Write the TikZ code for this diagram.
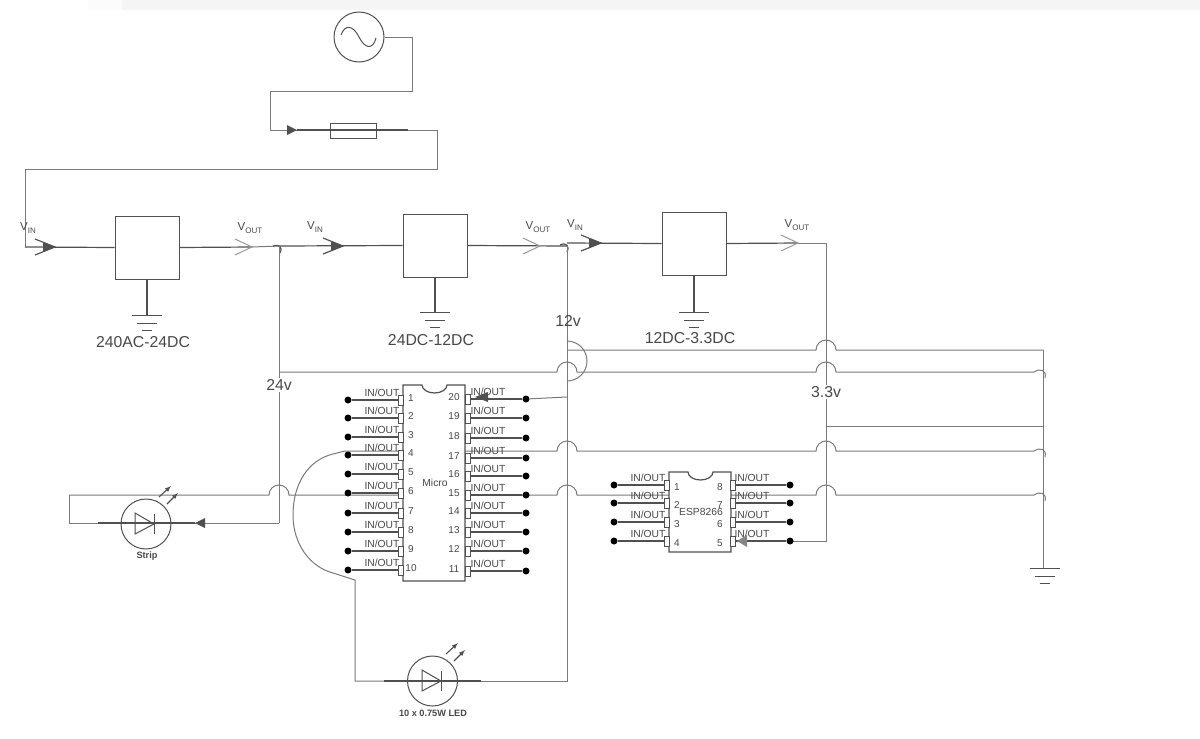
\documentclass[tikz,border=0pt]{standalone}
\usepackage{fontspec}
\setmainfont{Liberation Sans}
\definecolor{wirecol}{HTML}{7A7A7A}
\definecolor{darkcol}{HTML}{505050}
\definecolor{textcol}{HTML}{484848}
\tikzset{
  wire/.style={draw=wirecol,line width=1pt},
  lead/.style={draw=darkcol,line width=1.2pt},
  bluebox/.style={draw=darkcol,line width=1pt,fill=white,minimum width=64pt,minimum height=63pt,inner sep=0pt},
  pinbox/.style={draw=darkcol,line width=.8pt,fill=white,minimum width=5pt,minimum height=10pt,inner sep=0pt},
  pindot/.style={circle,fill=black,minimum size=7pt,inner sep=0pt},
  ledring/.style={circle,draw=darkcol,line width=1pt,minimum size=50pt,inner sep=0pt},
  iolabel/.style={font=\fontsize{10.3}{11}\selectfont,text=textcol,inner sep=0pt},
  numlabel/.style={font=\fontsize{10}{11}\selectfont,text=textcol,inner sep=0pt},
  biglabel/.style={font=\fontsize{15.8}{17}\selectfont,text=textcol,inner sep=0pt},
  boldlabel/.style={font=\fontsize{9.2}{10}\selectfont\bfseries,text=textcol,inner sep=0pt},
  vlabel/.style={font=\fontsize{11.5}{12}\selectfont,text=textcol,inner sep=0pt},
  vinarrow/.pic={
    \fill[darkcol] (20,0) -- (8,-5) -- (8,5) -- cycle;
    \draw[darkcol,line width=1.2pt] (0,-8) -- (20,0) -- (0,8);
  },
  voutarrow/.pic={
    \draw[gray!80,line width=1pt] (0,-8) -- (17,0) -- (0,8);
  },
  earth/.pic={
    \draw[darkcol,line width=1pt] (-15,0) -- (15,0) (-10,8) -- (10,8) (-5,15) -- (5,15);
  },
  ledsym/.pic={
    \draw[darkcol,line width=1pt] (-10,-11) -- (-10,10) -- (9,0) -- cycle;
    \draw[darkcol,line width=1pt] (9,-10) -- (9,10);
    \draw[darkcol,line width=1.1pt,-latex] (14,-27) -- (26,-38);
    \draw[darkcol,line width=1.1pt,-latex] (22,-20) -- (33,-31);
  }
}
\newcommand{\vsub}[1]{V\raisebox{-2.5pt}{\fontsize{8}{9}\selectfont #1}}
\begin{document}
\begin{tikzpicture}[x=1pt,y=-1pt]
\useasboundingbox (0,0) rectangle (1200,739);
\fill[white] (0,0) rectangle (1200,739);
\fill[black!1] (88,0) rectangle (122,10);
\fill[black!4] (122,0) rectangle (1200,10);

% mains and fuse
\node (source) [circle,draw=darkcol,line width=1pt,minimum size=50pt,inner sep=0pt] at (359,37) {};
\draw[darkcol,line width=1pt] (341,35) .. controls (345,24) and (353,25) .. (359,37) .. controls (365,49) and (373,50) .. (376,38);
\node (fuse) [draw=darkcol,line width=1pt,minimum width=46pt,minimum height=15pt,inner sep=0pt] at (353,131) {};
\coordinate (fusein) at (270,130);
\coordinate (fuseout) at (437,130);
\coordinate (vin1) at (25,247);
\draw[wire] (source.east) -- (412,37) -- (412,91) -- (270,91) -- (fusein) -- (297,130);
\fill[darkcol] (297,130) -- (287,125) -- (287,135) -- cycle;
\draw[lead] (297,130) -- (408,130);
\draw[wire] (408,130) -- (fuseout) -- (437,169) -- (25,169) -- (vin1);

% regulators
\node (reg1) [bluebox] at (147,247.5) {};
\node (reg2) [bluebox] at (435,245.5) {};
\node (reg3) [bluebox] at (694,243.5) {};
\coordinate (out1) at (279,246);
\coordinate (out2) at (567,246);
\coordinate (out3) at (826,243);
\draw[lead] (vin1) -- (reg1.west);
\draw[lead] (reg1.east) -- (252,247);
\draw[wire] (252,247) -- (out1);
\draw[lead] (out1) -- (reg2.west);
\draw[lead] (reg2.east) -- (out2);
\draw[lead] (567,243) -- (reg3.west);
\draw[lead] (reg3.east) -- (798,243);
\draw[wire] (798,243) -- (out3);
\draw[darkcol,line width=1.2pt] (273,246) .. controls (279,244) and (283,247) .. (280,253);
\draw[darkcol,line width=1.2pt] (560,245) .. controls (566,242) and (570,246) .. (567,252);
\pic at (35,247) {vinarrow};
\pic at (323,246) {vinarrow};
\pic at (581,243) {vinarrow};
\pic at (235,247) {voutarrow};
\pic at (523,246) {voutarrow};
\pic at (781,243) {voutarrow};
\draw[lead] (reg1.south) -- (147,315);
\draw[lead] (reg2.south) -- (435,312);
\draw[lead] (reg3.south) -- (694,312);
\pic at (147,315) {earth};
\pic at (435,312) {earth};
\pic at (694,312) {earth};
\node (vinlabel1) [vlabel] at (28,228) {\vsub{IN}};
\node (voutlabel1) [vlabel] at (250,228) {\vsub{OUT}};
\node (vinlabel2) [vlabel] at (315,227) {\vsub{IN}};
\node (voutlabel2) [vlabel] at (538,227) {\vsub{OUT}};
\node (vinlabel3) [vlabel] at (575,225) {\vsub{IN}};
\node (voutlabel3) [vlabel] at (797,225) {\vsub{OUT}};
\node (reglabel1) [biglabel] at (143,342) {240AC-24DC};
\node (reglabel2) [biglabel] at (431,340) {24DC-12DC};
\node (reglabel3) [biglabel] at (690,338) {12DC-3.3DC};

% rails
\coordinate (gndtop) at (1043.5,350);
\coordinate (gndend) at (1043.5,568);
\draw[wire] (out1) -- (279,523);
\draw[wire] (out2) -- (567,681) -- (481,681);
\draw[wire] (out3) -- (826,541) -- (790,541);
\draw[wire] (gndtop) -- (gndend);
\pic at (1044.5,568) {earth};
\draw[wire] (567,341) arc (-90:90:20);
\draw[wire] (567,350) -- (816,350) arc (180:360:10) -- (gndtop);
\draw[wire] (279,372) -- (557,372) arc (180:360:10) -- (816,372) arc (180:360:10) -- (1034,372) .. controls (1040,368) and (1047,370) .. (1045,378);
\draw[wire] (345,451) -- (557,451) arc (180:360:10) -- (816,451) arc (180:360:10) -- (1034,451) .. controls (1040,447) and (1047,449) .. (1045,457);
\draw[wire] (69,495) -- (269,495) arc (180:360:10) -- (557,495) arc (180:360:10) -- (816,495) arc (180:360:10) -- (1034,495) .. controls (1040,491) and (1047,493) .. (1045,501);
\draw[wire] (826,426) -- (1043.5,426);
\draw[wire] (345,451) -- (333,454) .. controls (308,460) and (293,484) .. (293,515) .. controls (293,544) and (310,567) .. (333,573) -- (355,580) -- (355,681) -- (384,681);

% micro
\draw[lead,fill=white] (403,385) -- (422,385) arc (180:0:12.5 and 8) -- (465,385) -- (465,581) -- (403,581) -- cycle;
\foreach \n/\yl/\yr [evaluate=\n as \m using int(21-\n)] in {1/400/399,2/418/418,3/437/438,4/455/458,5/474/476,6/493/495,7/513/513,8/532/532,9/551/551,10/570/571}{
  \node (mpin\n) [pinbox] at (400.5,\yl) {};
  \node (mdot\n) [pindot] at (348,\yl) {};
  \draw[lead] (mdot\n) -- (mpin\n);
  \node (mio\n) [iolabel] at (382,\yl-7) {IN/OUT};
  \node (mnum\n) [numlabel] at (411,\yl-2) {\n};
  \node (mpin\m) [pinbox] at (467.5,\yr) {};
  \node (mdot\m) [pindot] at (526,\yr) {};
  \draw[lead] (mdot\m) -- (mpin\m);
  \node (mio\m) [iolabel] at (488,\yr-7) {IN/OUT};
  \node (mnum\m) [numlabel] at (454,\yr-2) {\m};
}
\node (microlabel) [iolabel] at (435,483) {Micro};
\draw[wire] (567,397) -- (mdot20);
\fill[darkcol] (475,397) -- (488,392) -- (488,402) -- cycle;

% esp
\draw[lead,fill=white] (669,472) -- (688,472) arc (180:0:12.5 and 8) -- (731,472) -- (731,552) -- (669,552) -- cycle;
\foreach \n/\yy [evaluate=\n as \m using int(9-\n)] in {1/485,2/503,3/522,4/541}{
  \node (epin\n) [pinbox] at (667,\yy) {};
  \node (edot\n) [pindot] at (614,\yy) {};
  \draw[lead] (edot\n) -- (epin\n);
  \node (eio\n) [iolabel] at (648,\yy-7) {IN/OUT};
  \node (enum\n) [numlabel] at (677,\yy+2) {\n};
  \node (epin\m) [pinbox] at (733,\yy) {};
  \node (edot\m) [pindot] at (790,\yy) {};
  \draw[lead] (edot\m) -- (epin\m);
  \node (eio\m) [iolabel] at (752,\yy-7) {IN/OUT};
  \node (enum\m) [numlabel] at (720,\yy+2) {\m};
}
\node (esplabel) [iolabel] at (701,512) {ESP8266};
\fill[darkcol!70] (737,541) -- (747,535) -- (747,547) -- cycle;

% leds
\node (strip) [ledring] at (146,524) {};
\pic at (145,524) {ledsym};
\draw[wire] (69,495) -- (69,523) -- (98,523);
\draw[lead] (98,523) -- (195,523);
\draw[wire] (195,523) -- (279,523);
\fill[darkcol] (195,523) -- (205,518) -- (205,528) -- cycle;
\node (striplabel) [boldlabel] at (147,556) {Strip};
\node (led) [ledring] at (432.5,681) {};
\pic at (432,681) {ledsym};
\draw[lead] (384,681) -- (481,681);
\node (ledlabel) [boldlabel] at (433,713) {10 x 0.75W LED};

% voltages
\node (volt12) [biglabel] at (568,321) {12v};
\node (volt24) [biglabel,fill=white,inner sep=1pt] at (279,385) {24v};
\node (volt33) [biglabel,fill=white,inner sep=1pt] at (826,392) {3.3v};
\end{tikzpicture}
\end{document}
